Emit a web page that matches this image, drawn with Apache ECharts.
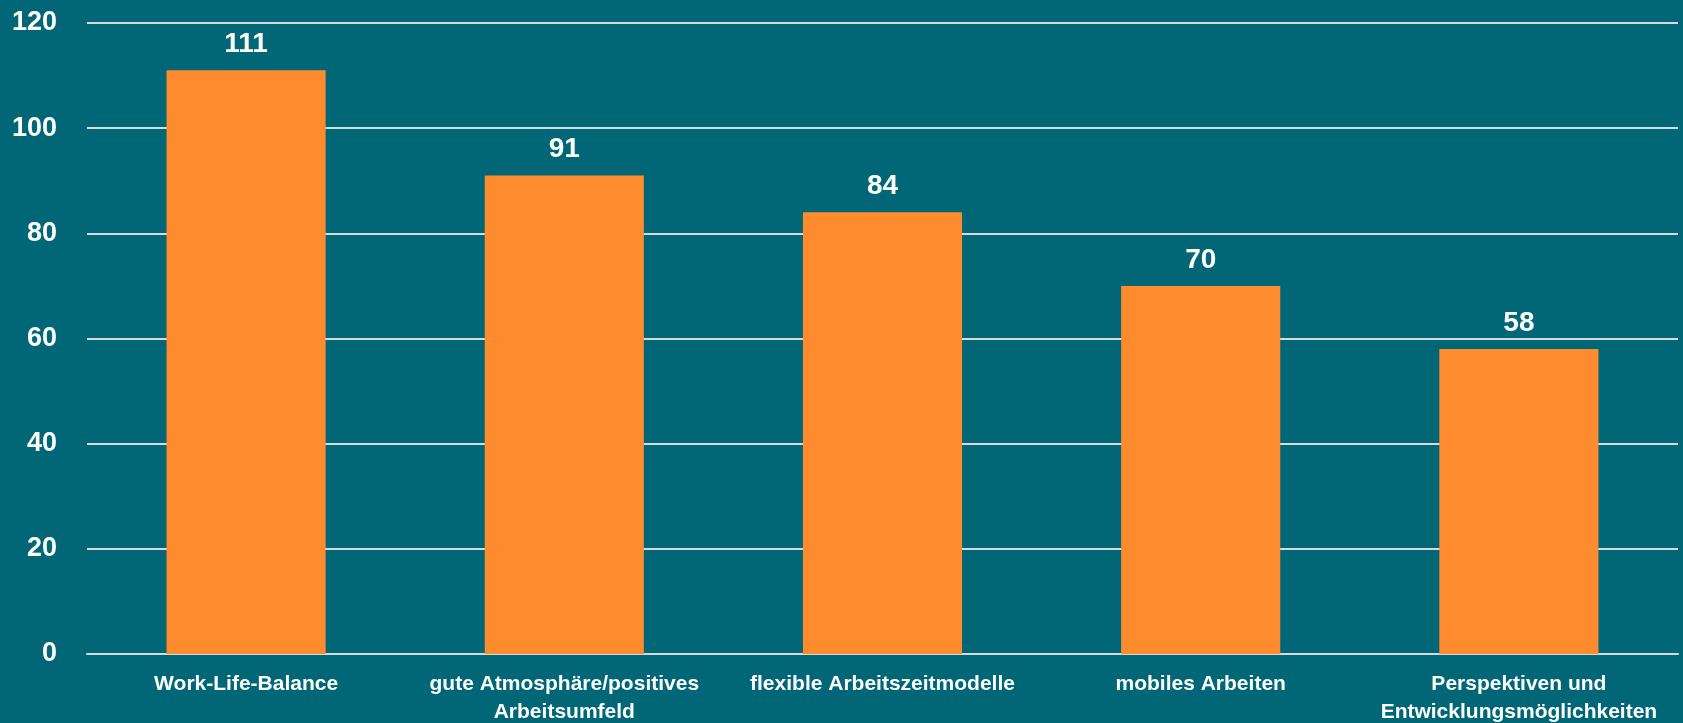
<!DOCTYPE html>
<html>
<head>
<meta charset="utf-8">
<script src="https://cdn.jsdelivr.net/npm/echarts@6/dist/echarts.min.js"></script>
<style>
  html, body { margin: 0; padding: 0; background: #016776; }
  #chart { width: 1683px; height: 723px; }
</style>
</head>
<body>
<div id="chart"></div>
<script>
// 类别
const categories = [
  'Work-Life-Balance',
  'gute Atmosphäre/positives\nArbeitsumfeld',
  'flexible Arbeitszeitmodelle',
  'mobiles Arbeiten',
  'Perspektiven und\nEntwicklungsmöglichkeiten'
]
// 数值
const values = [111, 91, 84, 70, 58]
// y轴刻度
const yMin = 0
const yMax = 120
const yStep = 20

const font = '"Liberation Sans Narrow", "Liberation Sans", Arial, sans-serif'

const chart = echarts.init(document.getElementById('chart'))

const option = {
  backgroundColor: '#016776',
  animation: false,
  grid: {
    left: 87,
    right: 5,
    top: 23,
    bottom: 69,
    outerBoundsMode: 'none',
    containLabel: false
  },
  xAxis: {
    type: 'category',
    data: categories,
    axisLine: { lineStyle: { color: '#d9d9d9', width: 2 } },
    axisTick: { show: false },
    axisLabel: {
      color: '#fff',
      fontFamily: font,
      fontWeight: 'bold',
      fontSize: 21,
      lineHeight: 28,
      margin: 16,
      interval: 0
    }
  },
  yAxis: {
    type: 'value',
    min: yMin,
    max: yMax,
    interval: yStep,
    axisLine: { show: false },
    axisTick: { show: false },
    splitLine: { lineStyle: { color: '#d9d9d9', width: 2 } },
    axisLabel: {
      color: '#fff',
      fontFamily: font,
      fontWeight: 'bold',
      fontSize: 27,
      margin: 30
    }
  },
  series: [
    {
      type: 'bar',
      data: values,
      barWidth: '50%',
      itemStyle: { color: '#fe8c2f' },
      label: {
        show: true,
        position: 'top',
        distance: 12,
        color: '#fff',
        fontFamily: font,
        fontWeight: 'bold',
        fontSize: 28
      }
    }
  ]
}

chart.setOption(option)
</script>
</body>
</html>
